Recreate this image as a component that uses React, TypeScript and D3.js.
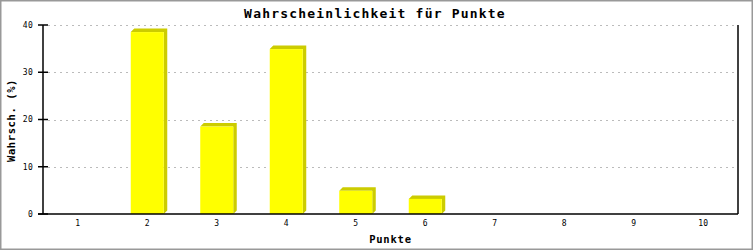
import React from "react";
import * as d3 from "d3";

const categories = ["1", "2", "3", "4", "5", "6", "7", "8", "9", "10"];
const values = [0, 38.5, 18.5, 34.9, 4.9, 3.2, 0, 0, 0, 0];
const yTicks = [0, 10, 20, 30, 40];
const title = "Wahrscheinlichkeit für Punkte";
const xLabel = "Punkte";
const yLabel = "Wahrsch. (%)";

const W = 753;
const H = 250;
const L = 43, R = 738, T = 25, B = 214;
const FONT = "'DejaVu Sans Mono', 'Liberation Mono', monospace";

export default function App() {
  const x = d3.scaleBand<string>().domain(categories).range([L, R]).paddingInner(0).paddingOuter(0);
  const y = d3.scaleLinear().domain([0, 40]).range([B, T]);
  const bw = 33;
  const d = 3.5;

  return (
    <svg width={W} height={H} style={{ position: "absolute", left: 0, top: 0, display: "block" }}>
      <rect x={0} y={0} width={W} height={H} fill="#fff" />
      <rect x={0.75} y={0.75} width={W - 1.5} height={H - 1.5} fill="none" stroke="#999" strokeWidth={1.5} />
      {/* grid */}
      {yTicks.filter(t => t > 0).map(t => (
        <line key={"g" + t} x1={L + 5} x2={R} y1={Math.round(y(t)) + 0.5} y2={Math.round(y(t)) + 0.5}
          stroke="#bbb" strokeWidth={1} strokeDasharray="2,4" />
      ))}
      {/* bars */}
      {categories.map((c, i) => {
        const v = values[i];
        if (v <= 0) return null;
        const cx = (x(c) as number) + x.bandwidth() / 2;
        const x0 = cx - bw / 2;
        const x1 = cx + bw / 2;
        const top = y(v);
        const pts = [
          [x0, top], [x0 + d, top - d], [x1 + d, top - d], [x1 + d, B - d], [x1, B], [x1, top]
        ].map(p => p.join(",")).join(" ");
        return (
          <g key={c}>
            <polygon points={pts} fill="#cccc00" />
            <rect x={x0} y={top} width={bw} height={B - top} fill="#ffff00" />
          </g>
        );
      })}
      {/* axes */}
      <line x1={L} x2={L} y1={T} y2={B} stroke="#000" strokeWidth={1.5} />
      <line x1={R} x2={R} y1={T} y2={B} stroke="#000" strokeWidth={1.5} />
      <line x1={L - 5} x2={R} y1={B} y2={B} stroke="#000" strokeWidth={1.5} />
      {yTicks.map(t => (
        <g key={"t" + t}>
          <line x1={L - 5} x2={L + 5} y1={y(t)} y2={y(t)} stroke="#000" strokeWidth={1.5} />
          <text x={33} y={y(t)} dy="0.35em" textAnchor="end" fontFamily={FONT} fontSize={8} letterSpacing={0.3}>{t}</text>
        </g>
      ))}
      {categories.map(c => (
        <text key={"x" + c} x={(x(c) as number) + x.bandwidth() / 2} y={226} textAnchor="middle"
          fontFamily={FONT} fontSize={8} letterSpacing={0.3}>{c}</text>
      ))}
      <text x={375} y={18} textAnchor="middle" fontFamily={FONT} fontSize={13} fontWeight="bold" letterSpacing={1.2}>{title}</text>
      <text x={(L + R) / 2} y={243} textAnchor="middle" fontFamily={FONT} fontSize={10.5} fontWeight="bold" letterSpacing={0.8}>{xLabel}</text>
      <text transform={`translate(15, ${(T + B) / 2 + 1}) rotate(-90)`} textAnchor="middle" fontFamily={FONT} fontSize={10.5} fontWeight="bold" letterSpacing={0.6}>{yLabel}</text>
    </svg>
  );
}
